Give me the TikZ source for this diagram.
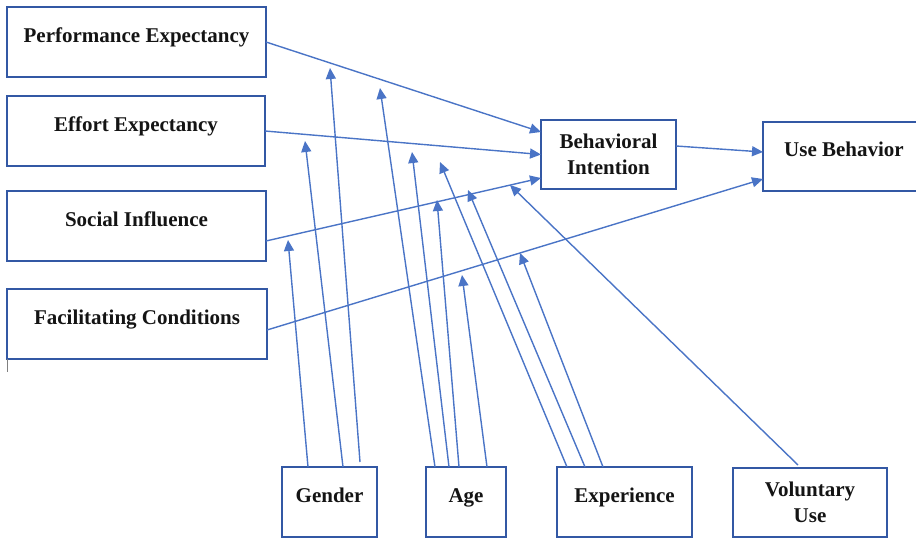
\documentclass[tikz,border=0pt]{standalone}
\usepackage{fontspec}
\setmainfont{Liberation Serif}
\usetikzlibrary{arrows.meta,calc}
\definecolor{boxblue}{HTML}{3358A4}
\definecolor{arrblue}{HTML}{4A74C6}
\begin{document}
\begin{tikzpicture}[x=1pt,y=-1pt,
  box/.style={draw=boxblue, line width=2.2pt, inner sep=0pt, outer sep=0pt,
    font=\bfseries\fontsize{21}{26}\selectfont, align=center, text=black!92},
  onel/.style={text height=10pt, text depth=10pt},
  arr/.style={draw=arrblue, line width=1.4pt, -{Triangle[length=11pt,width=10pt]}}]
\useasboundingbox (0,0) rectangle (916,538);
% construct boxes
\node[box,onel,minimum width=259pt,minimum height=70pt] (pe) at (136.5,42) {Performance Expectancy};
\node[box,onel,minimum width=258pt,minimum height=70pt] (ee) at (136,131) {Effort Expectancy};
\node[box,onel,minimum width=259pt,minimum height=70pt] (si) at (136.5,226) {Social Influence};
\node[box,onel,minimum width=260pt,minimum height=70pt] (fc) at (137,324) {Facilitating Conditions};
\node[box,minimum width=135pt,minimum height=69pt] (bi) at (608.5,154.5) {Behavioral\\Intention};
\node[box,onel,minimum width=162pt,minimum height=69pt] (ub) at (844,156.5) {Use Behavior};
% moderators
\node[box,onel,minimum width=95pt,minimum height=70pt] (gender) at (329.5,502) {Gender};
\node[box,onel,minimum width=80pt,minimum height=70pt] (age) at (466,502) {Age};
\node[box,onel,minimum width=135pt,minimum height=70pt] (exp) at (624.5,502) {Experience};
\node[box,minimum width=154pt,minimum height=69pt] (vol) at (810,502.5) {Voluntary\\Use};
% small artifact tick
\draw[gray, line width=1.5pt] (7.5,359) -- (7.5,372);
% main paths
\draw[arr] (pe.east) -- ($(bi.west)+(0,-22.5)$);
\draw[arr] (ee.east) -- (bi.west);
\draw[arr] ($(si.east)+(0,15)$) -- ($(bi.west)+(0,23.5)$);
\draw[arr] ($(fc.east)+(0,6)$) -- ($(ub.west)+(0,22.5)$);
\draw[arr] ($(bi.east)+(0,-8.5)$) -- ($(ub.west)+(0,-4.5)$);
% moderator targets
\coordinate (tg1) at (288,240);
\coordinate (tg2) at (305,141);
\coordinate (tg3) at (330,68);
\coordinate (ta1) at (380,88);
\coordinate (ta2) at (412,152);
\coordinate (ta3) at (437,200);
\coordinate (ta4) at (462,275);
\coordinate (te1) at (440,162);
\coordinate (te2) at (468,190);
\coordinate (te3) at (520,253);
\coordinate (tv) at (510,185);
% moderator arrows
\draw[arr] ($(gender.north west)+(26,0)$) -- (tg1);
\draw[arr] ($(gender.north west)+(61,0)$) -- (tg2);
\draw[arr] ($(gender.north west)+(78,-5)$) -- (tg3);
\draw[arr] ($(age.north west)+(9,0)$) -- (ta1);
\draw[arr] ($(age.north west)+(23,0)$) -- (ta2);
\draw[arr] ($(age.north west)+(33,0)$) -- (ta3);
\draw[arr] ($(age.north west)+(61,0)$) -- (ta4);
\draw[arr] ($(exp.north west)+(10,0)$) -- (te1);
\draw[arr] ($(exp.north west)+(28,0)$) -- (te2);
\draw[arr] ($(exp.north west)+(46,0)$) -- (te3);
\draw[arr] ($(vol.north west)+(65,-3)$) -- (tv);
\end{tikzpicture}
\end{document}
